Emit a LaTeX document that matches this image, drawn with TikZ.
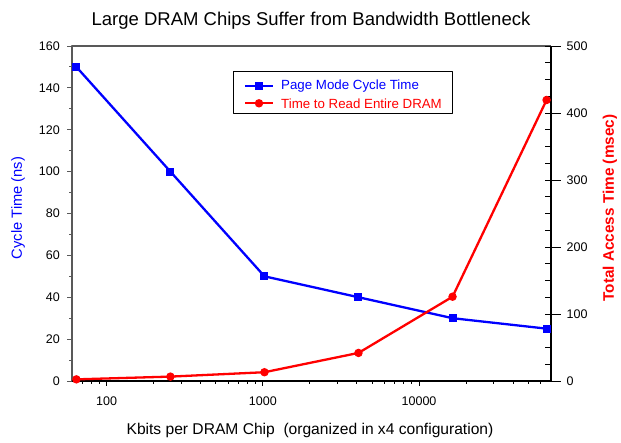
\documentclass[tikz,border=0pt]{standalone}
\usepackage{fontspec}
\setmainfont{Liberation Sans}
\usetikzlibrary{positioning}
\tikzset{
  bline/.style={blue,line width=2.3pt},
  rline/.style={red,line width=2.3pt},
  bsq/.style={fill=blue,inner sep=0pt,minimum size=8pt},
  rdot/.style={circle,fill=red,inner sep=0pt,minimum size=8.5pt},
  ticklab/.style={font=\fontsize{12.5}{14}\selectfont,inner sep=0pt},
  lgtext/.style={font=\fontsize{13.3}{15}\selectfont,inner sep=0pt,anchor=west}
}
\begin{document}
\begin{tikzpicture}[x=1pt,y=1pt,>=stealth, line join=round, line cap=butt,
  declare function={kl(\l)=72+(\l-1.77815)*156.2; ty(\v)=61+\v*2.09375; ry(\v)=61+\v*0.67;}]
  \useasboundingbox (0,0) rectangle (621,442);
  \def\xmin{72} \def\xmax{551}
  \def\ymin{61} \def\ymax{396}
  % frame
  \draw[black!65,line width=1.1pt] (\xmin,\ymin)--(\xmin,\ymax)--(\xmax,\ymax);
  \draw[black,line width=1.1pt] (\xmin,\ymin)--(\xmax,\ymin)--(\xmax,\ymax);
  % left axis
  \foreach \v in {0,20,...,160}{
    \draw[black!65,line width=0.9pt] (\xmin,{ty(\v)})--++(-5.5,0);
    \node[ticklab,anchor=east] (yl\v) at (60,{ty(\v)}) {\v};
  }
  \foreach \v in {10,30,...,150}
    \draw[black!65,line width=0.9pt] (\xmin,{ty(\v)})--++(-3,0);
  % right axis
  \foreach \v in {0,100,...,500}{
    \draw[line width=0.9pt] (\xmax-6,{ry(\v)})--++(15.5,0);
    \node[ticklab,anchor=west] (zl\v) at (566.5,{ry(\v)}) {\v};
  }
  \foreach \v in {25,50,75,125,150,175,225,250,275,325,350,375,425,450,475}
    \draw[line width=0.9pt] (\xmax,{ry(\v)})--++(-6,0);
  % bottom axis
  \foreach \d/\s in {2/100,3/1000,4/10000}{
    \draw[line width=0.9pt] ({kl(\d)},\ymin)--++(0,-5);
    \node[ticklab] (xl\d) at ({kl(\d)},41) {\s};
  }
  \foreach \d/\a/\b in {1/7/9,2/2/9,3/2/9,4/2/6}
    \foreach \m in {\a,...,\b}
      \draw[line width=0.9pt] ({kl(\d+log10(\m))},\ymin)--++(0,-3);
  % data
  \foreach \e/\c/\t [count=\i] in {6/150/2.46,8/100/6.55,10/50/13.1,12/40/41.9,14/30/125.8,16/25/419.4}{
    \coordinate (c\i) at ({kl(\e*0.30103)},{ty(\c)});
    \coordinate (t\i) at ({kl(\e*0.30103)},{ry(\t)});
  }
  \draw[bline] (c1)--(c2)--(c3)--(c4)--(c5)--(c6);
  \foreach \i in {1,...,6} \node[bsq] (cm\i) at (c\i) {};
  \draw[rline] (t1)--(t2)--(t3)--(t4)--(t5)--(t6);
  \foreach \i in {1,...,6} \node[rdot] (tm\i) at (t\i) {};
  % legend
  \node[draw,black,line width=1pt,minimum width=219pt,minimum height=42pt,anchor=north west] (lgbox) at (233,371) {};
  \node[lgtext,blue] (lgc) at (281,356.3) {Page Mode Cycle Time};
  \node[lgtext,red] (lgt) at (281,338.7) {Time to Read Entire DRAM};
  \draw[bline] ([xshift=-36pt]lgc.west)--([xshift=-8pt]lgc.west);
  \node[bsq] (lgcm) at ([xshift=-22pt]lgc.west) {};
  \draw[rline] ([xshift=-36pt]lgt.west)--([xshift=-8pt]lgt.west);
  \node[rdot] (lgtm) at ([xshift=-22pt]lgt.west) {};
  % titles
  \node[font=\fontsize{18.5}{20}\selectfont] (title) at (311,421.5) {Large DRAM Chips Suffer from Bandwidth Bottleneck};
  \node[font=\fontsize{15.6}{17}\selectfont] (xlab) at (310,12) {Kbits per DRAM Chip\ \ (organized in x4 configuration)};
  \node[font=\fontsize{14.7}{17}\selectfont,blue,rotate=90] (ylab) at (18,234) {Cycle Time (ns)};
  \node[font=\fontsize{15.3}{17}\selectfont\bfseries,red,rotate=90] (zlab) at (610,234) {Total Access Time (msec)};
\end{tikzpicture}
\end{document}
